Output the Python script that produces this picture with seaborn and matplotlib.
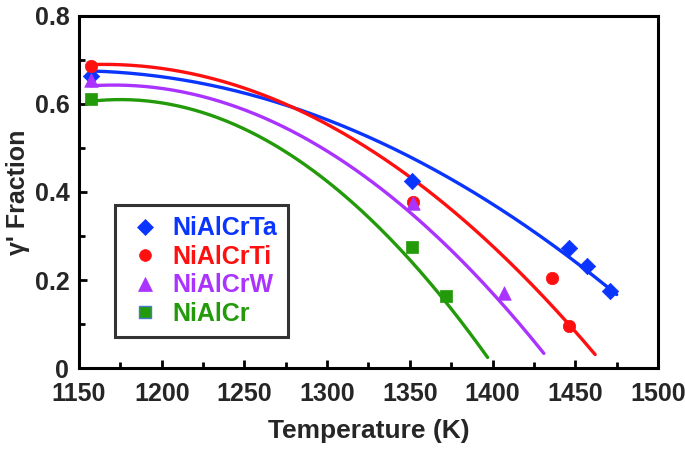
import numpy as np
import pandas as pd
import matplotlib
matplotlib.use("Agg")
import matplotlib.pyplot as plt
import matplotlib.transforms as mtransforms
import seaborn as sns
from matplotlib.lines import Line2D
from matplotlib.ticker import MultipleLocator, FuncFormatter

sns.set_style("white")
plt.rcParams['font.family'] = ['Liberation Sans', 'DejaVu Sans']
plt.rcParams['font.weight'] = 'bold'

# ---- data ----
series = ["NiAlCrTa", "NiAlCrTi", "NiAlCrW", "NiAlCr"]
temp_Ta = [1157, 1351, 1446, 1457, 1471]
frac_Ta = [0.664, 0.426, 0.272, 0.231, 0.175]
temp_Ti = [1157, 1352, 1436, 1446]
frac_Ti = [0.687, 0.377, 0.204, 0.095]
temp_W = [1157, 1352, 1407]
frac_W = [0.655, 0.376, 0.170]
temp_Cr = [1157, 1351, 1372]
frac_Cr = [0.611, 0.274, 0.163]

# quadratic trend lines: f = peak - curv * (T - T_peak)^2, drawn from T_start to T_end
fit_T_peak = [1146, 1165, 1171, 1175]
fit_f_peak = [0.6756, 0.690, 0.643, 0.610]
fit_curv = [4.699e-6, 7.475e-6, 9.02e-6, 1.189e-5]
fit_T_start = [1157, 1157, 1157, 1157]
fit_T_end = [1475, 1462, 1431, 1397]

colors = ["#0a35ff", "#ff1010", "#aa33ff", "#229a0a"]
markers = ["D", "o", "^", "s"]
msizes = [70, 80, 95, 75]

temps = [temp_Ta, temp_Ti, temp_W, temp_Cr]
fracs = [frac_Ta, frac_Ti, frac_W, frac_Cr]

fig = plt.figure(figsize=(6.85, 4.54), dpi=100)
ax = fig.add_axes([0.1153, 0.1894, 0.8453, 0.7754])

for i, name in enumerate(series):
    T = np.linspace(fit_T_start[i], fit_T_end[i], 200)
    f = fit_f_peak[i] - fit_curv[i] * (T - fit_T_peak[i]) ** 2
    sns.lineplot(x=T, y=f, ax=ax, color=colors[i], lw=2.4, zorder=2)

for i, name in enumerate(series):
    df = pd.DataFrame({"T": temps[i], "f": fracs[i]})
    sns.scatterplot(data=df, x="T", y="f", ax=ax, color=colors[i],
                    marker=markers[i], s=msizes[i], edgecolor=colors[i],
                    linewidth=0.5, zorder=3)

ax.set_xlim(1150, 1500)
ax.set_ylim(0, 0.8)
ax.xaxis.set_major_locator(MultipleLocator(50))
ax.xaxis.set_minor_locator(MultipleLocator(25))
ax.yaxis.set_major_locator(MultipleLocator(0.2))
ax.yaxis.set_minor_locator(MultipleLocator(0.1))
ax.yaxis.set_major_formatter(FuncFormatter(lambda v, p: "0" if abs(v) < 1e-9 else f"{v:.1f}"))
ax.tick_params(axis='both', which='major', direction='in', length=6, width=2,
               labelsize=18, color='black', bottom=True, left=True)
ax.tick_params(axis='x', which='major', pad=10)
ax.tick_params(axis='y', which='major', pad=7)
ax.tick_params(axis='both', which='minor', direction='in', length=4, width=2,
               color='black', bottom=True, left=True)
for lab in ax.get_xticklabels() + ax.get_yticklabels():
    lab.set_fontweight('bold')
# the "0" label sits a little below the axis line
fig.canvas.draw()
ylabs = ax.get_yticklabels()
ylabs[0].set_transform(ylabs[0].get_transform() +
                       mtransforms.ScaledTranslation(0, -6 / 72, fig.dpi_scale_trans))

for sp in ax.spines.values():
    sp.set_visible(True)
    sp.set_color('black')
    sp.set_linewidth(2.2)

ax.set_xlabel("Temperature (K)", fontsize=19, fontweight='bold')
ax.set_ylabel("\u03b3' Fraction", fontsize=18, fontweight='bold')
ax.xaxis.set_label_coords(0.5, -0.145)
ax.yaxis.set_label_coords(-0.085, 0.5)

handles = [Line2D([], [], ls='none', marker=markers[i], color=colors[i],
                  markersize=[8, 8.5, 9.5, 8.5][i],
                  markeredgecolor=('#4a7ad0' if i == 3 else colors[i]),
                  markeredgewidth=(1.0 if i == 3 else 0.5))
           for i in range(4)]
leg = ax.legend(handles, series, loc='lower left', bbox_to_anchor=(0.062, 0.088),
                frameon=True, fancybox=False, shadow=False, fontsize=18,
                borderpad=0.45, labelspacing=0.18, handletextpad=0.35,
                handlelength=1.5, borderaxespad=0)
leg.get_frame().set_edgecolor('black')
leg.get_frame().set_linewidth(2.2)
for t, c in zip(leg.get_texts(), colors):
    t.set_color(c)
    t.set_fontweight('bold')

fig.savefig("out.png", dpi=100)
